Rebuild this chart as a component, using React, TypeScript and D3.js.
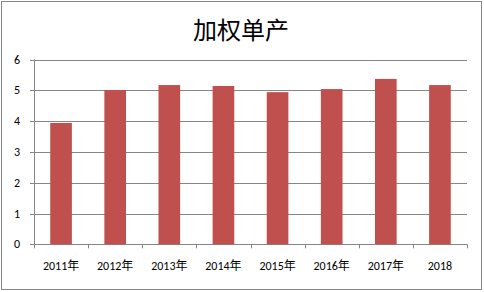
import React from "react";
import * as d3 from "d3";

const categories = ["2011年", "2012年", "2013年", "2014年", "2015年", "2016年", "2017年", "2018"];
const values = [3.94, 5.01, 5.17, 5.14, 4.94, 5.04, 5.37, 5.17];
const yTicks = [0, 1, 2, 3, 4, 5, 6];
const title = "加权单产";

export default function App() {
  const W = 484, H = 292;
  const left = 34, right = 467, top = 59.5, bottom = 244.3;
  const x = d3.scaleBand<string>().domain(categories).range([left, right]).paddingInner(0.6).paddingOuter(0.3);
  const xb = d3.scaleBand<string>().domain(categories).range([left, right]);
  const y = d3.scaleLinear().domain([0, 6]).range([bottom, top]);
  const font = "Calibri, Carlito, 'Liberation Sans', 'Noto Sans CJK SC', sans-serif";
  return (
    <svg width={W} height={H} style={{ position: "absolute", left: 0, top: 0 }}>
      <rect x={1.5} y={1.5} width={480} height={288} fill="#fff" stroke="#868686" strokeWidth={1} />
      <text x={241} y={28} textAnchor="middle" dominantBaseline="central" fontSize={24}
        fontFamily="'Noto Sans CJK SC', sans-serif" fill="#000">{title}</text>
      {yTicks.map((t) => (
        <g key={t}>
          <line x1={left - 4} x2={t === 0 ? right : right} y1={Math.round(y(t)) + 0.5} y2={Math.round(y(t)) + 0.5}
            stroke="#868686" strokeWidth={1} />
          <text x={20} y={y(t)} textAnchor="end" dominantBaseline="central" fontSize={12} fontFamily={font} fill="#000">{t}</text>
        </g>
      ))}
      <line x1={left + 0.5} x2={left + 0.5} y1={top} y2={bottom} stroke="#868686" />
      {categories.map((c, i) => (
        <rect key={c} x={x(c)} y={y(values[i])} width={x.bandwidth()} height={y(0) - y(values[i])} fill="#C0504D" />
      ))}
      {[...categories.map((c) => xb(c) as number), right].map((v, i) => (
        <line key={i} x1={Math.round(v) + 0.5} x2={Math.round(v) + 0.5} y1={bottom} y2={bottom + 4} stroke="#868686" />
      ))}
      {categories.map((c) => (
        <text key={c} x={(xb(c) as number) + xb.bandwidth() / 2} y={266} textAnchor="middle" dominantBaseline="central"
          fontSize={12} fontFamily={font} fill="#000">{c}</text>
      ))}
    </svg>
  );
}
